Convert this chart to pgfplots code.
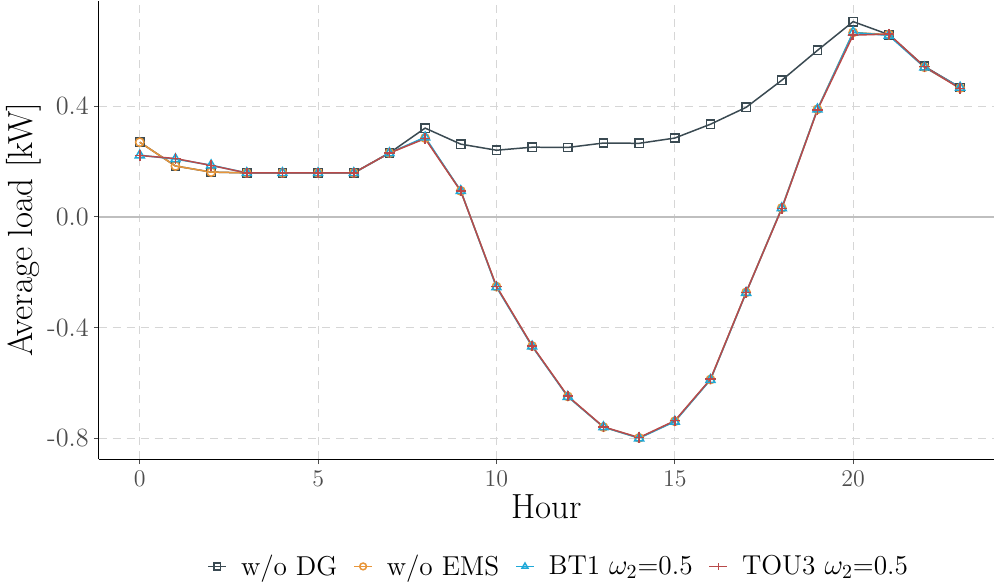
\documentclass[border=0pt]{standalone}
\usepackage{pgfplots}
\pgfplotsset{compat=1.18}
\definecolor{cdg}{HTML}{3A4A52}
\definecolor{cems}{HTML}{E8963A}
\definecolor{cbt}{HTML}{1FA8D8}
\definecolor{ctou}{HTML}{B84A4A}
\definecolor{tickgray}{HTML}{4D4D4D}
\definecolor{gridgray}{HTML}{D6D6D6}
\begin{document}
\begin{tikzpicture}
\begin{axis}[
  scale only axis,
  width=449pt, height=230pt,
  xmin=-1.15, xmax=23.95,
  ymin=-0.876, ymax=0.782,
  axis x line*=bottom, axis y line*=left,
  axis line style={black, line width=0.6pt, -},
  xtick={0,5,10,15,20},
  ytick={-0.8,-0.4,0,0.4},
  yticklabels={-0.8,-0.4,0.0,0.4},
  tick style={tickgray, line width=0.5pt},
  tick align=outside,
  major tick length=2.5pt,
  ticklabel style={text=tickgray, font=\fontsize{13.2}{15}\selectfont},
  yticklabel style={xshift=1pt},
  grid=major,
  major grid style={gridgray, dash pattern=on 4pt off 3pt, line width=0.6pt},
  xlabel={Hour},
  ylabel={Average load [kW]},
  label style={font=\fontsize{17.5}{20}\selectfont},
  xlabel style={yshift=3pt},
  ylabel style={yshift=-4pt},
  legend columns=4,
  legend style={draw=none, at={(0.515,-0.19)}, anchor=north,
    font=\fontsize{13.7}{15}\selectfont,
    /tikz/every odd column/.append style={column sep=5pt},
    /tikz/every even column/.append style={column sep=6pt}},
  legend image code/.code={%
    \draw[mark repeat=2, mark phase=2, mark size=1.7pt]
      plot coordinates {(0pt,0pt) (4.5pt,0pt) (9pt,0pt)};},
  every axis plot/.append style={line width=0.75pt},
  clip=false,
]
\draw[gray!50, line width=1pt] (axis cs:-1.15,0) -- (axis cs:23.95,0);
\addplot[color=cdg, mark=square, mark size=2.1pt] coordinates {
(0,0.270) (1,0.184) (2,0.162) (3,0.159) (4,0.159) (5,0.159) (6,0.159) (7,0.231)
(8,0.321) (9,0.263) (10,0.241) (11,0.252) (12,0.251) (13,0.267) (14,0.266) (15,0.285)
(16,0.335) (17,0.396) (18,0.494) (19,0.602) (20,0.706) (21,0.659) (22,0.544) (23,0.468)};
\addlegendentry{w/o DG}
\addplot[color=cems, mark=o, mark size=2.1pt] coordinates {
(0,0.270) (1,0.184) (2,0.162) (3,0.159) (4,0.159) (5,0.159) (6,0.159) (7,0.231)
(8,0.285) (9,0.094) (10,-0.252) (11,-0.467) (12,-0.649) (13,-0.760) (14,-0.799) (15,-0.739)
(16,-0.588) (17,-0.273) (18,0.032) (19,0.389) (20,0.667) (21,0.659) (22,0.541) (23,0.466)};
\addlegendentry{w/o EMS}
\addplot[color=cbt, mark=triangle, mark size=2.6pt] coordinates {
(0,0.223) (1,0.209) (2,0.187) (3,0.159) (4,0.159) (5,0.159) (6,0.159) (7,0.231)
(8,0.288) (9,0.094) (10,-0.254) (11,-0.468) (12,-0.650) (13,-0.760) (14,-0.800) (15,-0.740)
(16,-0.589) (17,-0.274) (18,0.032) (19,0.389) (20,0.667) (21,0.656) (22,0.541) (23,0.468)};
\addlegendentry{BT1 $\omega_2$=0.5}
\addplot[color=ctou, mark=+, mark size=2.6pt] coordinates {
(0,0.222) (1,0.211) (2,0.186) (3,0.159) (4,0.159) (5,0.159) (6,0.159) (7,0.231)
(8,0.283) (9,0.093) (10,-0.251) (11,-0.466) (12,-0.648) (13,-0.759) (14,-0.798) (15,-0.737)
(16,-0.587) (17,-0.273) (18,0.030) (19,0.387) (20,0.657) (21,0.661) (22,0.543) (23,0.464)};
\addlegendentry{TOU3 $\omega_2$=0.5}
\end{axis}
\end{tikzpicture}
\end{document}
